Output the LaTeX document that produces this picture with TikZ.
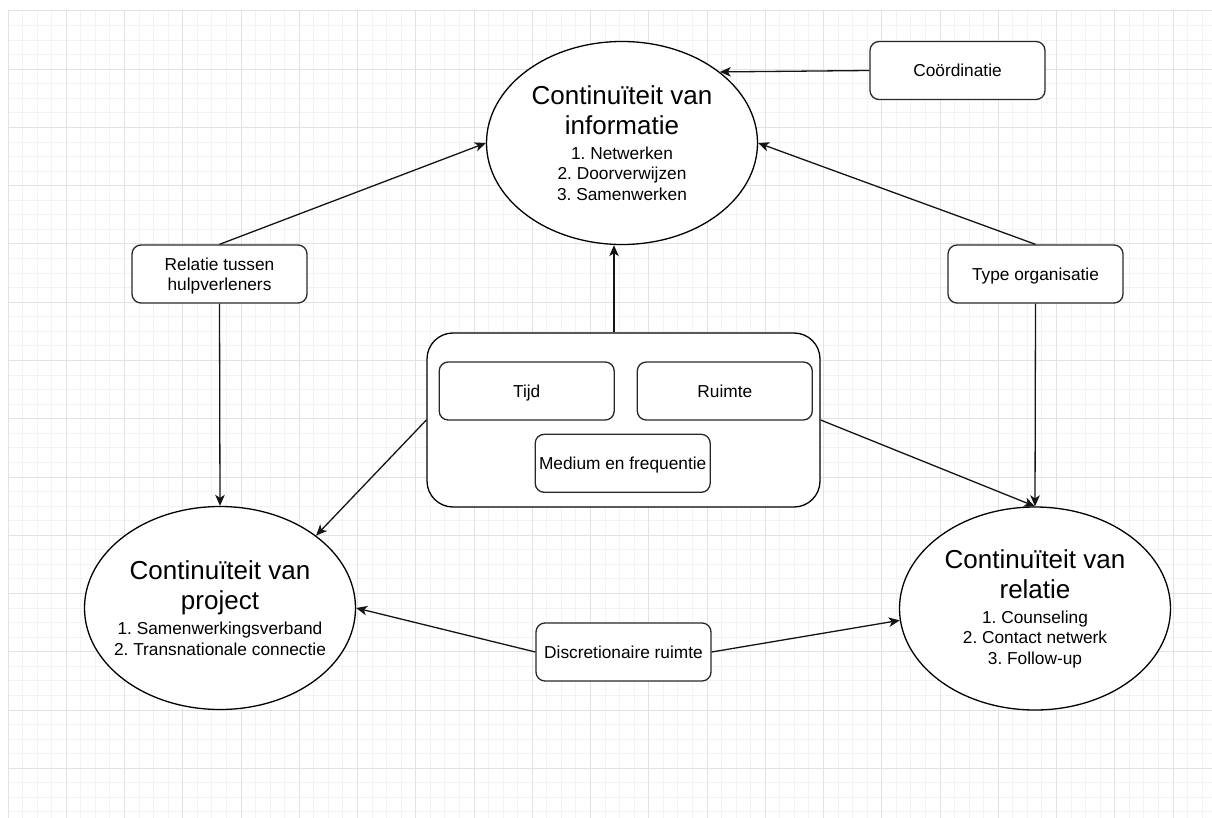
\documentclass[tikz,border=0pt]{standalone}
\usepackage{fontspec}
\setmainfont{Liberation Sans}
\usetikzlibrary{shapes.geometric,arrows.meta}
\newcommand{\dgTitle}{\fontsize{26}{30}\selectfont}
\newcommand{\dgList}{\fontsize{17.3}{20.5}\selectfont}
\frenchspacing
\begin{document}
\begin{tikzpicture}[x=1pt,y=-1pt,
  minorgrid/.style={draw={rgb,255:red,243;green,243;blue,243}, line width=1pt},
  majorgrid/.style={draw={rgb,255:red,226;green,226;blue,226}, line width=1pt},
  ell/.style={draw=black, line width=1.3pt, ellipse, fill=white,
    minimum width=271pt, minimum height=203pt, inner xsep=-20pt, inner ysep=0pt,
    align=center, font=\dgList\frenchspacing},
  rbox/.style={draw={rgb,255:red,40;green,40;blue,40}, line width=1.3pt, rounded corners=9pt, fill=white,
    minimum width=175pt, minimum height=58pt, inner sep=0pt, align=center, font=\dgList},
  onebox/.style={rbox, text height=12.6pt, text depth=0pt},
  twobox/.style={rbox, text height=33.1pt, text depth=0pt},
  container/.style={draw=black, line width=1.3pt, rounded corners=26pt, fill=white,
    minimum width=393pt, minimum height=174pt, inner sep=0pt},
  arr/.style={-{Stealth[length=11pt,width=9.5pt,inset=3pt]}, line width=1.3pt, draw={rgb,255:red,20;green,20;blue,20}}
]
\useasboundingbox (0,0) rectangle (1212,818);
\fill[white] (0,0) rectangle (1212,818);
% grid
\foreach \k in {0,...,82} \draw[minorgrid] ({8+14.5625*\k},11) -- ({8+14.5625*\k},818);
\foreach \k in {0,...,55} \draw[minorgrid] (8,{11+14.5625*\k}) -- (1212,{11+14.5625*\k});
\foreach \k in {0,...,20} \draw[majorgrid] ({8+58.25*\k},11) -- ({8+58.25*\k},818);
\foreach \k in {0,...,13} \draw[majorgrid] (8,{11+58.25*\k}) -- (1212,{11+58.25*\k});

% ellipses
\node[ell] (info) at (622,143) {{\dgTitle Continuïteit van}\\[9.5pt]{\dgTitle informatie}\\[4.5pt]1. Netwerken\\2. Doorverwijzen\\3. Samenwerken};
\node[ell] (proj) at (220,608) {{\dgTitle Continuïteit van}\\[9.5pt]{\dgTitle project}\\[4.5pt]1. Samenwerkingsverband\\2. Transnationale connectie};
\node[ell] (relat) at (1035,608.5) {{\dgTitle Continuïteit van}\\[9.5pt]{\dgTitle relatie}\\[4.5pt]1. Counseling\\2. Contact netwerk\\3. Follow-up};

% boxes
\node[onebox] (coord) at (957.5,70.5) {Coördinatie};
\node[twobox] (relbox) at (219.5,274) {Relatie tussen\\hulpverleners};
\node[onebox] (type) at (1035.5,274) {Type organisatie};
\node[container] (cont) at (623.5,420) {};
\node[onebox] (tijd) at (526.7,391) {Tijd};
\node[onebox] (ruimte) at (724.8,391) {Ruimte};
\node[onebox] (medium) at (622.7,463.3) {Medium en frequentie};
\node[onebox] (disc) at (623.5,652) {Discretionaire ruimte};

% connectors
\draw[arr] (coord.west) -- (info.36);
\draw[arr] (type.north) -- (info.east);
\draw[arr] (relbox.north) -- (info.west);
\draw[arr] (relbox.south) -- (proj.north);
\draw[arr] (type.south) -- (relat.north);
\draw[arr] ([xshift=-9.5pt]cont.north) -- ([xshift=-9.5pt]cont.north |- info.south);
\draw[arr] (cont.west) -- (proj.37);
\draw[arr] (cont.east) -- (relat.north);
\draw[arr] (disc.west) -- (proj.east);
\draw[arr] (disc.east) -- (relat.185);
\end{tikzpicture}
\end{document}
